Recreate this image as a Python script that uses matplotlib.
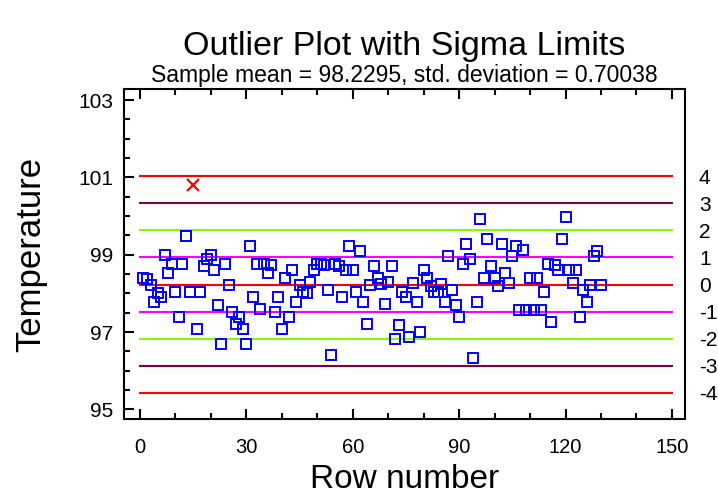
import numpy as np
import matplotlib
matplotlib.use("Agg")
import matplotlib.pyplot as plt
from matplotlib.ticker import MultipleLocator

plt.rcParams['font.family'] = ['Liberation Sans', 'DejaVu Sans']

# temperature readings, rows 1..130
temps = [98.40, 98.38, 98.21, 97.78, 98.00, 97.91, 98.99, 98.53, 98.77, 98.03,
         97.38, 98.77, 99.48, 98.03, 100.80, 97.07, 98.03, 98.71, 98.88, 98.99,
         98.60, 97.70, 96.68, 98.77, 98.21, 97.51, 97.20, 97.38, 97.07, 96.68,
         99.23, 97.91, 98.77, 97.59, 98.77, 98.52, 98.73, 97.52, 97.90, 97.08,
         98.41, 97.39, 98.60, 97.78, 98.21, 98.04, 98.02, 98.30, 98.60, 98.75,
         98.77, 98.73, 98.08, 96.40, 98.75, 98.70, 97.90, 98.60, 99.23, 98.60,
         98.04, 99.10, 97.78, 97.20, 98.21, 98.71, 98.41, 98.25, 97.72, 98.30,
         98.71, 96.82, 97.18, 98.03, 97.91, 96.88, 98.27, 97.77, 97.01, 98.60,
         98.41, 98.20, 98.03, 98.03, 98.24, 97.77, 98.97, 98.08, 97.70, 97.38,
         98.77, 99.29, 98.90, 96.34, 97.77, 99.92, 98.41, 99.40, 98.71, 98.41,
         98.19, 99.29, 98.54, 98.28, 98.97, 99.22, 97.58, 99.12, 97.58, 98.41,
         97.58, 98.41, 97.58, 98.03, 98.77, 97.27, 98.73, 98.60, 99.40, 99.98,
         98.60, 98.28, 98.60, 97.38, 98.08, 97.77, 98.21, 98.97, 99.10, 98.21]
rows = np.arange(1, len(temps) + 1)

mean = 98.2295
sd = 0.70038
sigmas = [4, 3, 2, 1, 0, -1, -2, -3, -4]
sigma_labels = ['4', '3', '2', '1', '0', '-1', '-2', '-3', '-4']
line_colors = {0: '#ff0000', 1: '#ff00ff', 2: '#80ff00', 3: '#800040', 4: '#ff0000'}

temps = np.array(temps)
z = (temps - mean) / sd
out = np.abs(z) > 3

fig = plt.figure(figsize=(7.18, 5.03), dpi=100)
ax = fig.add_axes([0.1731, 0.167, 0.781, 0.6555])

for k in sigmas:
    ax.plot([0, 150], [mean + k * sd] * 2, color=line_colors[abs(k)], lw=1.5, zorder=1)

ax.plot(rows[~out], temps[~out], 's', ms=6.5, mfc='none', mec='#0000ff', mew=1.4, zorder=3)
ax.plot(rows[out], temps[out], 'x', ms=9, color='#ff0000', mew=1.6, zorder=3)

ax.set_xlim(-4.4, 153.7)
ax.set_ylim(94.75, 103.28)
ax.set_xticks([0, 30, 60, 90, 120, 150])
ax.set_yticks([95, 97, 99, 101, 103])
ax.xaxis.set_minor_locator(MultipleLocator(10))
ax.yaxis.set_minor_locator(MultipleLocator(0.5))
ax.tick_params(which='both', direction='in', top=True, right=True, width=1.5, colors='black')
ax.tick_params(which='major', length=7)
ax.tick_params(which='minor', length=4)
ax.tick_params(axis='y', labelsize=15, pad=8)
ax.tick_params(axis='x', labelsize=14.5, pad=14)
for s in ax.spines.values():
    s.set_linewidth(1.5)

ax2 = ax.twinx()
ax2.set_ylim(ax.get_ylim())
ax2.set_yticks([mean + k * sd for k in sigmas])
ax2.set_yticklabels(sigma_labels)
ax2.tick_params(axis='y', length=0, labelsize=15, pad=10)
for s in ax2.spines.values():
    s.set_visible(False)

ax.set_xlabel('Row number', fontsize=24, labelpad=5)
ax.set_ylabel('Temperature', fontsize=25, labelpad=22)
fig.text(0.5634, 0.908, 'Outlier Plot with Sigma Limits', fontsize=24.5, ha='center', va='center')
fig.text(0.5634, 0.849, 'Sample mean = 98.2295, std. deviation = 0.70038', fontsize=16.5,
         ha='center', va='center')

plt.savefig('out.png', dpi=100)
